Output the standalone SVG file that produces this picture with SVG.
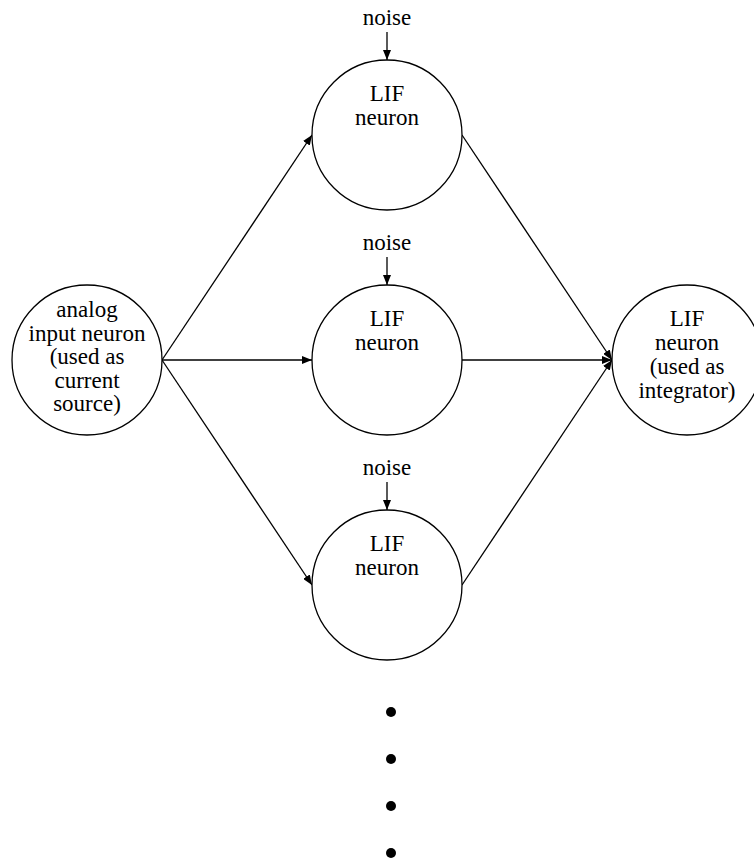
<svg xmlns="http://www.w3.org/2000/svg" width="754" height="861" viewBox="0 0 754 861">
<style>
.node{fill:#fff;stroke:#000;stroke-width:1.3}
text{font-family:'Liberation Serif','Times New Roman',Times,serif;font-size:23px;fill:#000;text-anchor:middle}
.c{stroke:#000;stroke-width:1.3;fill:none;marker-end:url(#ah)}
</style>
<defs>
<marker id="ah" viewBox="0 0 10 8" refX="10" refY="4" markerWidth="10" markerHeight="8" markerUnits="userSpaceOnUse" orient="auto">
<path d="M0,0 L10,4 L0,8 z" fill="#000"/>
</marker>
</defs>
<rect width="754" height="861" fill="#fff"/>
<g id="connectors">
<line class="c" x1="387" y1="32" x2="387" y2="60"/>
<line class="c" x1="387" y1="257" x2="387" y2="285"/>
<line class="c" x1="387" y1="482" x2="387" y2="510"/>
<line class="c" x1="162" y1="360" x2="312" y2="135"/>
<line class="c" x1="162" y1="360" x2="312" y2="360"/>
<line class="c" x1="162" y1="360" x2="312" y2="585"/>
<line class="c" x1="462" y1="135" x2="612" y2="360"/>
<line class="c" x1="462" y1="360" x2="612" y2="360"/>
<line class="c" x1="462" y1="585" x2="612" y2="360"/>
</g>
<g id="input" font-family="Liberation Serif, serif">
<circle class="node" cx="87" cy="360" r="75"/>
<text x="87" y="317">analog</text>
<text x="87" y="340.5">input neuron</text>
<text x="87" y="364">(used as</text>
<text x="87" y="387.5">current</text>
<text x="87" y="411">source)</text>
</g>
<g id="lif1">
<circle class="node" cx="387" cy="135" r="75"/>
<text x="387" y="101">LIF</text>
<text x="387" y="125">neuron</text>
</g>
<g id="lif2">
<circle class="node" cx="387" cy="360" r="75"/>
<text x="387" y="326">LIF</text>
<text x="387" y="350">neuron</text>
</g>
<g id="lif3">
<circle class="node" cx="387" cy="585" r="75"/>
<text x="387" y="551">LIF</text>
<text x="387" y="575">neuron</text>
</g>
<g id="integrator">
<circle class="node" cx="687" cy="360" r="75"/>
<text x="687" y="326">LIF</text>
<text x="687" y="350">neuron</text>
<text x="687" y="374">(used as</text>
<text x="687" y="398">integrator)</text>
</g>
<g id="noise1"><text x="387" y="25">noise</text></g>
<g id="noise2"><text x="387" y="250">noise</text></g>
<g id="noise3"><text x="387" y="475">noise</text></g>
<g id="dots">
<circle cx="391" cy="712" r="5" fill="#000"/>
<circle cx="391" cy="759" r="5" fill="#000"/>
<circle cx="391" cy="806" r="5" fill="#000"/>
<circle cx="391" cy="853" r="5" fill="#000"/>
</g>
</svg>
